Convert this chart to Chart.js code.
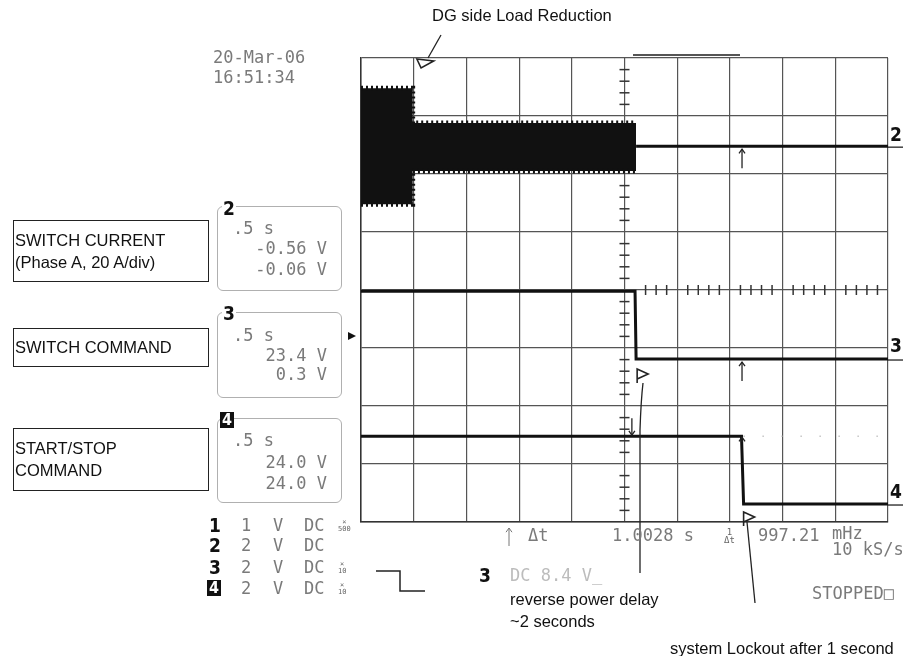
<!DOCTYPE html>
<html>
<head>
<meta charset="utf-8">
<script src="https://cdn.jsdelivr.net/npm/chart.js@4.4.1/dist/chart.umd.min.js"></script>
<style>
body { margin: 0; background: #fff; }
#wrap { position: relative; width: 905px; height: 656px; overflow: hidden; background: #fff; }
#scope { position: absolute; left: 0; top: 0; }
.t { position: absolute; white-space: nowrap; line-height: 20px; height: 20px; }
.sans { font-family: 'Liberation Sans', Arial, sans-serif; font-size: 16.5px; color: #111; }
.mono { font-family: 'DejaVu Sans Mono', monospace; font-size: 17px; color: #7a7a7a; }
.light { color: #bcbcbc; }
.ch { font-family: 'Liberation Sans Narrow', 'DejaVu Sans Condensed', 'Liberation Sans', sans-serif; font-size: 19px; font-weight: bold; color: #111; }
.tag { background: #fff; padding: 0 1px; }
.inv { background: #111; color: #fff; padding: 0 2px; line-height: 16px; height: 16px; }
.tiny { font-family: 'DejaVu Sans Mono', monospace; font-size: 7px; line-height: 7px; color: #666; text-align: center; }
.box { position: absolute; border: 1.5px solid #222; }
.rbox { position: absolute; border: 1.5px solid #b0b0b0; border-radius: 6px; }
</style>
</head>
<body>
<div id="wrap">
  <canvas id="scope" width="905" height="656"></canvas>
  <div class="box" style="left:13px;top:220px;width:194px;height:60px"></div>
  <div class="box" style="left:13px;top:328px;width:194px;height:37px"></div>
  <div class="box" style="left:13px;top:428px;width:194px;height:61px"></div>
  <div class="rbox" style="left:217px;top:206px;width:123px;height:83px"></div>
  <div class="rbox" style="left:217px;top:312px;width:123px;height:84px"></div>
  <div class="rbox" style="left:217px;top:418px;width:123px;height:83px"></div>
</div>
<script>
// oscilloscope capture: 0.5 s/div across 10 divisions, 8 vertical divisions
const timeTicks = [0, 0.5, 1, 1.5, 2, 2.5, 3, 3.5, 4, 4.5, 5];
const divTicks = [0, 1, 2, 3, 4, 5, 6, 7, 8];

// channel 2 - switch current (envelope of the 60 Hz waveform), in divisions
const currentTime = [0, 0.49, 0.49, 2.61];
const currentUpper = [7.48, 7.48, 6.88, 6.88];
const currentLower = [5.48, 5.48, 6.05, 6.05];
const currentAfterTime = [2.61, 5.0];
const currentAfter = [6.48, 6.48];

// channel 3 - switch command
const switchCmdTime = [0, 2.60, 2.61, 5.0];
const switchCmd = [3.98, 3.98, 2.81, 2.81];

// channel 4 - start/stop command
const startStopTime = [0, 3.61, 3.63, 5.0];
const startStop = [1.48, 1.48, 0.31, 0.31];
const startStopGhostTime = [3.63, 5.0];
const startStopGhost = [1.48, 1.48];

// cursor positions (s)
const cursorA = 2.57;
const cursorB = 3.615;

function pts(xs, ys) {
    return xs.map((x, i) => ({ x: x, y: ys[i] }));
}

// text placed around the scope screen: [text, x, centre y, class, align]
const texts = [
    ['DG side Load Reduction', 432, 15, 'sans'],
    ['20-Mar-06', 213, 57, 'mono'],
    ['16:51:34', 213, 77, 'mono'],
    ['SWITCH CURRENT', 15, 240, 'sans'],
    ['(Phase A, 20 A/div)', 15, 262, 'sans'],
    ['SWITCH COMMAND', 15, 347, 'sans'],
    ['START/STOP', 15, 448, 'sans'],
    ['COMMAND', 15, 470, 'sans'],
    ['.5 s', 233, 228, 'mono'],
    ['-0.56 V', 327, 248, 'mono', 'right'],
    ['-0.06 V', 327, 269, 'mono', 'right'],
    ['.5 s', 233, 335, 'mono'],
    ['23.4 V', 327, 355, 'mono', 'right'],
    ['0.3 V', 327, 374, 'mono', 'right'],
    ['.5 s', 233, 440, 'mono'],
    ['24.0 V', 327, 462, 'mono', 'right'],
    ['24.0 V', 327, 483, 'mono', 'right'],
    ['2', 222, 208, 'ch tag'],
    ['3', 222, 313, 'ch tag'],
    ['1', 209, 525, 'ch'],
    ['2', 209, 545, 'ch'],
    ['3', 209, 567, 'ch'],
    ['1', 241, 525, 'mono'],
    ['2', 241, 545, 'mono'],
    ['2', 241, 567, 'mono'],
    ['2', 241, 588, 'mono'],
    ['V', 273, 525, 'mono'],
    ['V', 273, 545, 'mono'],
    ['V', 273, 567, 'mono'],
    ['V', 273, 588, 'mono'],
    ['DC', 304, 525, 'mono'],
    ['DC', 304, 545, 'mono'],
    ['DC', 304, 567, 'mono'],
    ['DC', 304, 588, 'mono'],
    ['Δt', 528, 535, 'mono'],
    ['1.0028 s', 612, 535, 'mono'],
    ['997.21', 758, 535, 'mono'],
    ['mHz', 832, 533, 'mono'],
    ['10 kS/s', 832, 549, 'mono'],
    ['3', 479, 575, 'ch'],
    ['DC 8.4 V_', 510, 575, 'mono light'],
    ['reverse power delay', 510, 599, 'sans'],
    ['~2 seconds', 510, 621, 'sans'],
    ['STOPPED□', 812, 593, 'mono'],
    ['system Lockout after 1 second', 670, 648, 'sans'],
    ['2', 890, 134, 'ch'],
    ['3', 890, 345, 'ch'],
    ['4', 890, 491, 'ch']
];

const wrap = document.getElementById('wrap');
texts.forEach(([text, x, y, cls, align]) => {
    const el = document.createElement('div');
    el.className = 't ' + cls;
    el.textContent = text;
    el.style.left = x + 'px';
    el.style.top = (y - 10) + 'px';
    if (align === 'right') el.style.transform = 'translateX(-100%)';
    wrap.appendChild(el);
});

// inverted channel 4 tags
[[220, 420], [207, 588]].forEach(([x, y]) => {
    const el = document.createElement('div');
    el.className = 't ch inv';
    el.textContent = '4';
    el.style.left = x + 'px';
    el.style.top = (y - 8) + 'px';
    el.style.fontSize = '16px';
    wrap.appendChild(el);
});

// probe ratio marks next to the channel table
[['×', '500', 525], ['×', '10', 567], ['×', '10', 588]].forEach(([a, b, y]) => {
    const el = document.createElement('div');
    el.className = 't tiny';
    el.innerHTML = a + '<br>' + b;
    el.style.left = '338px';
    el.style.top = (y - 6) + 'px';
    wrap.appendChild(el);
});
const inv = document.createElement('div');
inv.className = 't tiny';
inv.innerHTML = '1<br>Δt';
inv.style.left = '724px';
inv.style.top = '528px';
inv.style.fontSize = '9px';
inv.style.lineHeight = '8px';
wrap.appendChild(inv);

function arrow(ctx, x, y1, y2, head) {
    ctx.beginPath();
    ctx.moveTo(x, y1);
    ctx.lineTo(x, y2);
    ctx.stroke();
    const d = y2 > y1 ? -1 : 1;
    ctx.beginPath();
    ctx.moveTo(x - head, y2 + d * head * 1.4);
    ctx.lineTo(x, y2);
    ctx.lineTo(x + head, y2 + d * head * 1.4);
    ctx.stroke();
}

function flag(ctx, x, y) {
    // small outlined trigger flag
    ctx.beginPath();
    ctx.moveTo(x, y + 14);
    ctx.lineTo(x, y);
    ctx.lineTo(x + 11, y + 5);
    ctx.lineTo(x, y + 10);
    ctx.stroke();
}

const scopeMarks = {
    id: 'scopeMarks',
    beforeDatasetsDraw(chart) {
        const { ctx, scales: { x, y } } = chart;
        ctx.save();
        ctx.strokeStyle = '#333';
        ctx.lineWidth = 1.5;
        const cx = x.getPixelForValue(2.5);
        const cy = y.getPixelForValue(4);
        for (let i = 1; i < 40; i++) {
            if (i % 5 === 0) continue;
            const py = y.getPixelForValue(i * 0.2);
            ctx.beginPath();
            ctx.moveTo(cx - 5, py);
            ctx.lineTo(cx + 5, py);
            ctx.stroke();
        }
        // left half of the centre line is hidden under channel 3
        for (let i = 1; i < 50; i++) {
            if (i % 5 === 0 || i * 0.1 < switchCmdTime[2]) continue;
            const px = x.getPixelForValue(i * 0.1);
            ctx.beginPath();
            ctx.moveTo(px, cy - 5);
            ctx.lineTo(px, cy + 5);
            ctx.stroke();
        }
        ctx.restore();
    },
    afterDatasetsDraw(chart) {
        const { ctx, scales: { x, y } } = chart;
        const X = v => x.getPixelForValue(v);
        const Y = v => y.getPixelForValue(v);
        ctx.save();
        ctx.strokeStyle = '#222';
        ctx.fillStyle = '#111';
        ctx.lineWidth = 1.3;

        // cursor arrows
        arrow(ctx, X(cursorB), Y(currentAfter[0]) + 22, Y(currentAfter[0]) + 3, 3);
        arrow(ctx, X(cursorB), Y(switchCmd[3]) + 22, Y(switchCmd[3]) + 3, 3);
        arrow(ctx, X(cursorA), Y(startStop[0]) - 18, Y(startStop[0]) - 1, 3);
        arrow(ctx, X(cursorB), Y(startStop[0]) + 6, Y(startStop[0]) + 1, 3);

        // trigger / marker flags
        ctx.lineWidth = 1.6;
        flag(ctx, X(2.62), Y(switchCmd[3]) + 10);
        flag(ctx, X(3.63), Y(0) - 10);
        ctx.beginPath();
        ctx.moveTo(X(0.53), Y(8) + 1);
        ctx.lineTo(X(0.69), Y(8) + 3);
        ctx.lineTo(X(0.57), Y(8) + 10);
        ctx.closePath();
        ctx.stroke();

        // hand-drawn annotation leaders
        ctx.lineWidth = 1.3;
        ctx.beginPath();
        ctx.moveTo(441, 35);
        ctx.lineTo(428, 58);
        ctx.stroke();
        ctx.beginPath();
        ctx.moveTo(643, 383);
        ctx.quadraticCurveTo(641, 400, 640, 430);
        ctx.lineTo(640, 573);
        ctx.stroke();
        ctx.beginPath();
        ctx.moveTo(747, 522);
        ctx.lineTo(755, 603);
        ctx.stroke();

        // trigger level marker
        ctx.beginPath();
        ctx.moveTo(348, 332);
        ctx.lineTo(356, 336);
        ctx.lineTo(348, 340);
        ctx.closePath();
        ctx.fill();

        // bar above the screen
        ctx.strokeStyle = '#555';
        ctx.lineWidth = 2;
        ctx.beginPath();
        ctx.moveTo(633, 55);
        ctx.lineTo(740, 55);
        ctx.stroke();

        // channel reference underlines
        ctx.strokeStyle = '#222';
        ctx.lineWidth = 1.3;
        [currentAfter[1], switchCmd[3], startStop[3]].forEach(v => {
            ctx.beginPath();
            ctx.moveTo(888, Y(v) + 1);
            ctx.lineTo(903, Y(v) + 1);
            ctx.stroke();
        });

        // falling-edge trigger symbol
        ctx.lineWidth = 1.5;
        ctx.beginPath();
        ctx.moveTo(376, 571);
        ctx.lineTo(400, 571);
        ctx.lineTo(400, 591);
        ctx.lineTo(425, 591);
        ctx.stroke();

        // delta-t cursor arrow
        ctx.strokeStyle = '#777';
        ctx.lineWidth = 1;
        arrow(ctx, 509, 546, 528, 3);
        ctx.restore();
    }
};

const traceStyle = {
    borderColor: '#111',
    pointRadius: 0,
    tension: 0,
    fill: false
};

new Chart(document.getElementById('scope'), {
    type: 'line',
    data: {
        datasets: [
            { ...traceStyle, data: pts(currentTime, currentUpper), borderWidth: 5, borderDash: [2, 3] },
            { ...traceStyle, data: pts(currentTime, currentLower), borderWidth: 5, borderDash: [2, 3],
              fill: '-1', backgroundColor: '#111' },
            { ...traceStyle, data: pts(currentAfterTime, currentAfter), borderWidth: 3 },
            { ...traceStyle, data: pts(switchCmdTime, switchCmd), borderWidth: 3 },
            { ...traceStyle, data: pts(startStopTime, startStop), borderWidth: 3 },
            { ...traceStyle, data: pts(startStopGhostTime, startStopGhost), borderWidth: 1.5,
              borderColor: '#aaa', borderDash: [1, 18] }
        ]
    },
    options: {
        responsive: false,
        animation: false,
        events: [],
        layout: { padding: { left: 361, top: 58, right: 17, bottom: 134 } },
        plugins: { legend: { display: false }, tooltip: { enabled: false } },
        scales: {
            x: {
                type: 'linear',
                min: timeTicks[0],
                max: timeTicks[timeTicks.length - 1],
                afterBuildTicks: s => { s.ticks = timeTicks.map(v => ({ value: v })); },
                ticks: { display: false },
                grid: { color: '#555', lineWidth: 1.2, drawTicks: false },
                border: { color: '#333', width: 1.5 }
            },
            y: {
                min: divTicks[0],
                max: divTicks[divTicks.length - 1],
                afterBuildTicks: s => { s.ticks = divTicks.map(v => ({ value: v })); },
                ticks: { display: false },
                grid: { color: '#555', lineWidth: 1.2, drawTicks: false },
                border: { color: '#333', width: 1.5 }
            }
        }
    },
    plugins: [scopeMarks]
});
</script>
</body>
</html>
